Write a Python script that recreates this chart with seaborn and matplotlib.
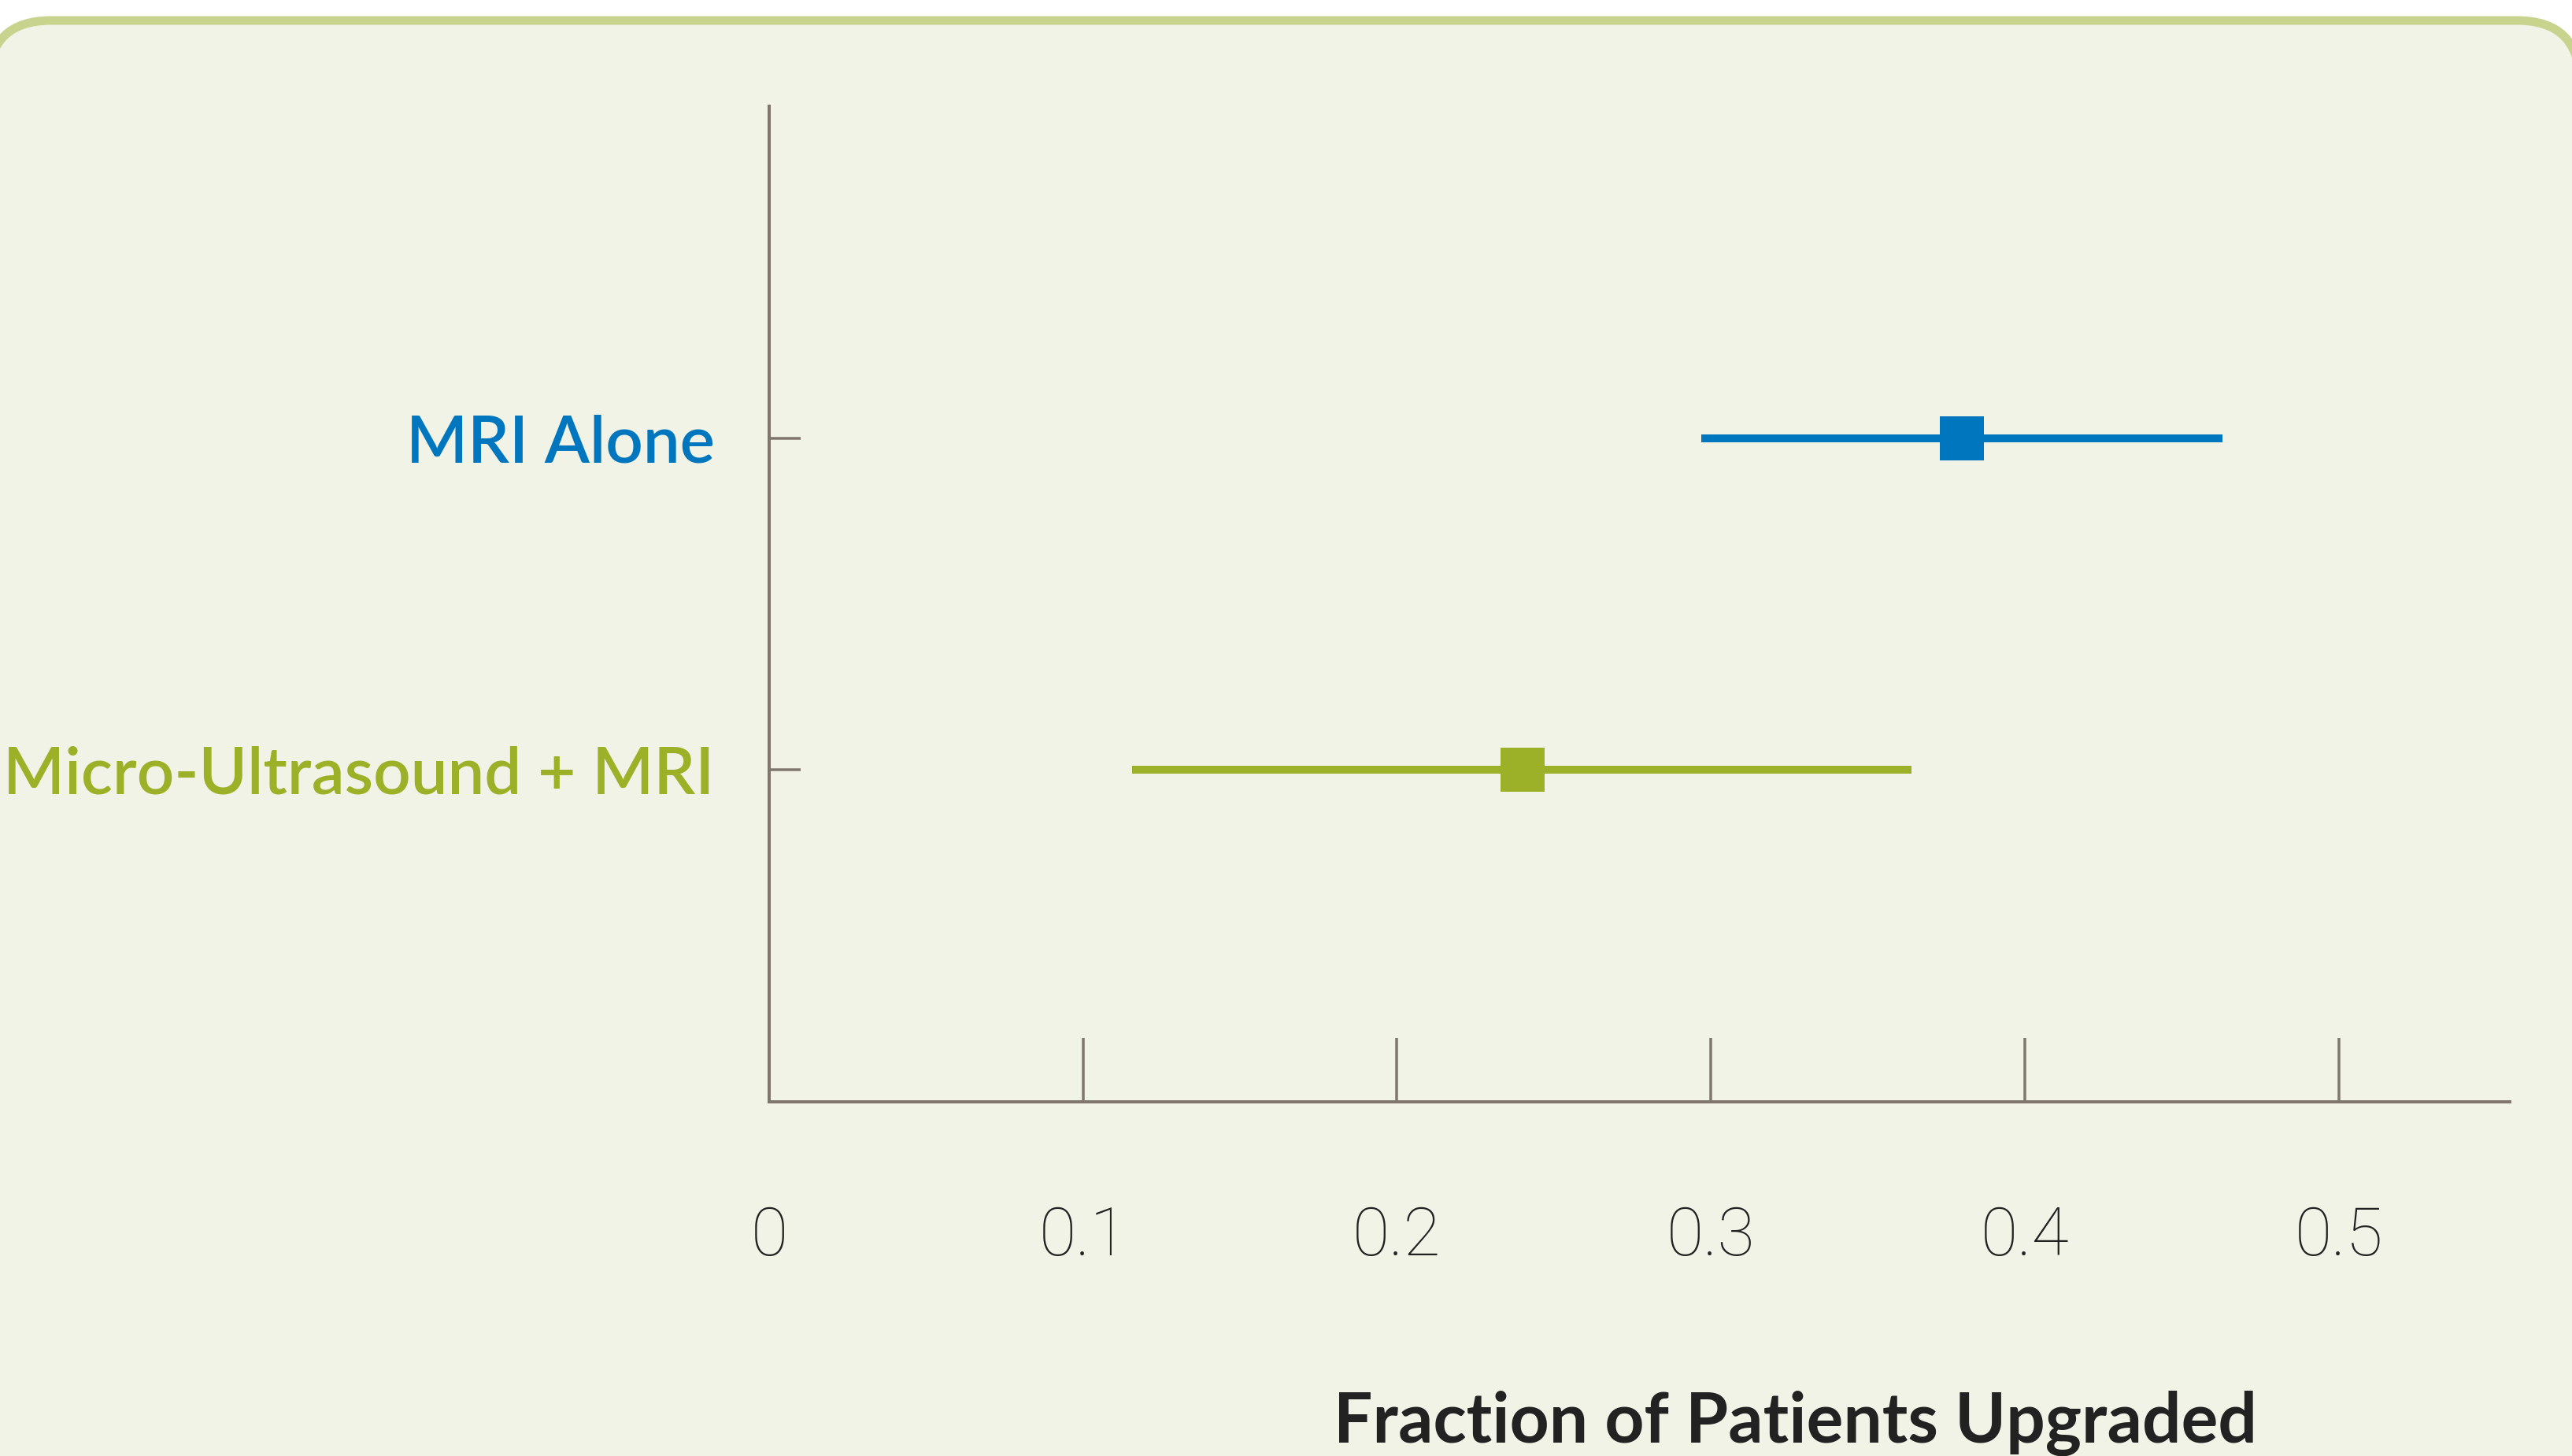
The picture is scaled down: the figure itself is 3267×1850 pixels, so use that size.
import matplotlib
matplotlib.use("Agg")
import matplotlib.pyplot as plt
from matplotlib.patches import FancyBboxPatch
import seaborn as sns
import pandas as pd
import numpy as np

# ---- data ----
groups = ["MRI Alone", "Micro-Ultrasound + MRI"]
estimates = [0.380, 0.240]
ci_low = [0.297, 0.1155]
ci_high = [0.463, 0.364]
x_ticks = [0, 0.1, 0.2, 0.3, 0.4, 0.5]
x_tick_labels = ["0", "0.1", "0.2", "0.3", "0.4", "0.5"]
x_label = "Fraction of Patients Upgraded"

colors = ["#0076BE", "#9CB128"]
axis_color = "#7F766E"
bg = "#F1F3E6"
border = "#C8D48E"

sns.set_theme(style="white")
plt.rcParams["font.family"] = ["Lato", "DejaVu Sans"]

W, H, DPI = 3267, 1850, 200
fig = plt.figure(figsize=(W / DPI, H / DPI), dpi=DPI, facecolor="white")

# rounded background panel (coordinates in inches)
px = 1.0 / DPI
panel = FancyBboxPatch((-15 * px, -300 * px), (3277 + 15) * px, (1824 + 300) * px,
                       boxstyle="round,pad=0,rounding_size=%f" % (80 * px),
                       transform=fig.dpi_scale_trans, facecolor=bg,
                       edgecolor=border, linewidth=11 * 72 / DPI, zorder=-5)
fig.patches.append(panel)

ax = fig.add_axes([977 / W, 1 - 1400 / H, (3188 - 977) / W, (1400 - 135) / H])
ax.set_facecolor("none")
ax.set_zorder(2)

df = pd.DataFrame({"group": groups, "est": estimates, "lo": ci_low, "hi": ci_high})

lw = 10 * 72 / DPI
for i, row in df.iterrows():
    ax.hlines(y=i, xmin=row["lo"], xmax=row["hi"], color=colors[i], linewidth=lw, zorder=2)

msize = (56 * 72 / DPI) ** 2
sns.scatterplot(data=df, x="est", y="group", hue="group", palette=colors, marker="s",
                s=msize, linewidth=0, legend=False, ax=ax, zorder=3)

ax.set_xlim(0, 0.5545)
ax.set_ylim(2.0, -1.0)

for s in ["top", "right"]:
    ax.spines[s].set_visible(False)
for s in ["left", "bottom"]:
    ax.spines[s].set_color(axis_color)
    ax.spines[s].set_linewidth(4 * 72 / DPI)

ax.set_xticks(x_ticks)
ax.set_xticklabels(x_tick_labels)
ax.tick_params(axis="x", bottom=True, direction="in", length=81 * 72 / DPI, width=3.5 * 72 / DPI,
               color=axis_color, pad=47, labelsize=31, labelcolor="#222222")
for lab in ax.get_xticklabels():
    lab.set_family(["Roboto", "DejaVu Sans"])
    lab.set_fontweight("light")

ax.set_yticks(range(len(groups)))
ax.set_yticklabels(groups)
ax.tick_params(axis="y", left=True, direction="in", length=40 * 72 / DPI, width=3.5 * 72 / DPI,
               color=axis_color, pad=25, labelsize=30)
for lab, c in zip(ax.get_yticklabels(), colors):
    lab.set_color(c)
    lab.set_fontweight("semibold")

ax.set_xlabel("")
ax.set_ylabel("")

fig.text(2280 / W, 1 - 1833 / H, x_label, ha="center", va="baseline",
         fontsize=31.5, fontweight="bold", color="#222222")

fig.savefig("out.png", dpi=DPI, facecolor="white")
